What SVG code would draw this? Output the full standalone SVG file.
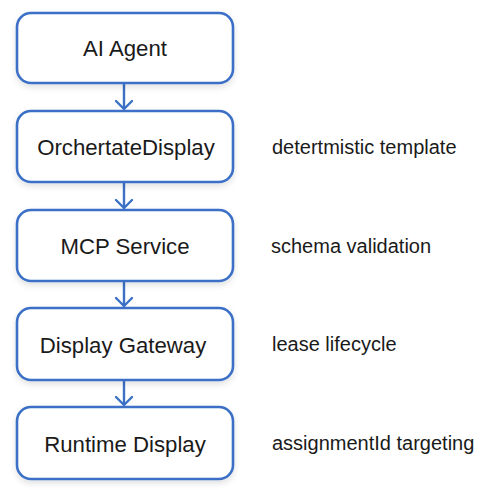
<svg xmlns="http://www.w3.org/2000/svg" width="490" height="490" viewBox="0 0 490 490">
<defs>
<style>
.box{fill:#fff;stroke:#3b70c6;stroke-width:2.6}
.lbl{font-family:"Liberation Sans",Arial,sans-serif;font-size:22.2px;fill:#1a1a1a;text-anchor:middle}
.side{font-family:"Liberation Sans",Arial,sans-serif;font-size:20px;fill:#1a1a1a}
.edge{stroke:#3b70c6;stroke-width:2.4;fill:none;stroke-linecap:round;stroke-linejoin:round}
</style>
<filter id="sh" x="-10%" y="-20%" width="120%" height="150%">
<feDropShadow dx="0" dy="3" stdDeviation="3" flood-color="#000" flood-opacity="0.12"/>
</filter>
</defs>
<rect width="490" height="490" fill="#fff"/>
<g id="connectors">
<path class="edge" d="M124 84V109M116 101L124 109L132 101"/>
<path class="edge" d="M124 183V208M116 200L124 208L132 200"/>
<path class="edge" d="M124 282V306M116 298L124 306L132 298"/>
<path class="edge" d="M124 381V405M116 397L124 405L132 397"/>
</g>
<g id="n1"><rect class="box" filter="url(#sh)" x="17" y="13" width="216" height="70" rx="14"/><text class="lbl" x="125" y="56">AI Agent</text></g>
<g id="n2"><rect class="box" filter="url(#sh)" x="17" y="111" width="216" height="71" rx="14"/><text class="lbl" x="126" y="155">OrchertateDisplay</text></g>
<g id="n3"><rect class="box" filter="url(#sh)" x="17" y="210" width="216" height="71" rx="14"/><text class="lbl" x="125" y="253.5">MCP Service</text></g>
<g id="n4"><rect class="box" filter="url(#sh)" x="17" y="308" width="216" height="72" rx="14"/><text class="lbl" x="123" y="352.5">Display Gateway</text></g>
<g id="n5"><rect class="box" filter="url(#sh)" x="17" y="407" width="216" height="72" rx="14"/><text class="lbl" x="125" y="451.5">Runtime Display</text></g>
<g id="notes">
<text class="side" x="272" y="154">detertmistic template</text>
<text class="side" x="271" y="252.5">schema validation</text>
<text class="side" x="272" y="351">lease lifecycle</text>
<text class="side" x="272" y="449.5">assignmentId targeting</text>
</g>
</svg>
